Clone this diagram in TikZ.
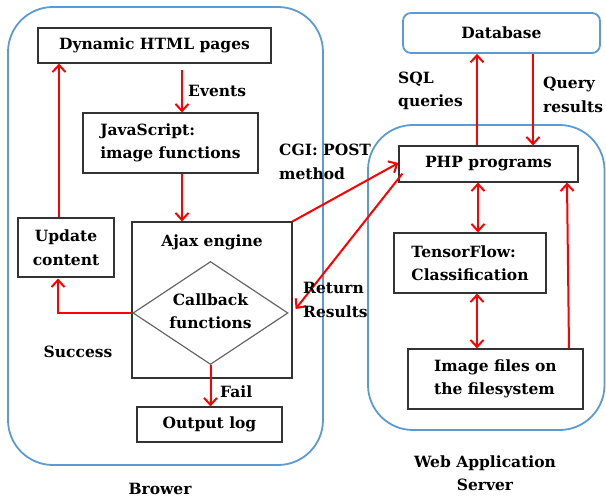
\documentclass[tikz,border=0pt]{standalone}
\usepackage{fontspec}
\setmainfont{DejaVu Serif}
\usetikzlibrary{arrows.meta,shapes.geometric,calc}
\definecolor{frameblue}{RGB}{91,155,213}
\definecolor{arrred}{RGB}{255,0,0}
\begin{document}
\begin{tikzpicture}[x=1pt,y=-1pt,
  every node/.style={font=\bfseries\fontsize{15.5}{23.5}\selectfont, inner sep=0pt},
  box/.style={draw=black!80, line width=1.2pt, rectangle},
  region/.style={draw=frameblue, line width=1.8pt, rounded corners=45pt},
  arr/.style={draw=arrred, line width=2pt, -{Straight Barb[length=7pt,width=13pt]}},
  dbl/.style={draw=arrred, line width=2pt, {Straight Barb[length=7pt,width=13pt]}-{Straight Barb[length=7pt,width=13pt]}},
  lbl/.style={align=left}]
\useasboundingbox (0,0) rectangle (606,500);

% containers
\draw[region] (8,7) rectangle (323,465);
\draw[region] (368,125) rectangle (604.5,430);

% browser side
\node[box, minimum width=233pt, minimum height=35pt] (dyn) at (154.5,45.5) {Dynamic HTML pages};
\node[box, minimum width=175pt, minimum height=60pt, lbl] (js) at (170.5,143) {JavaScript:\\image functions};
\node[box, minimum width=96pt, minimum height=59pt, align=center] (upd) at (66,247.5) {Update\\content};
\node[box, minimum width=160pt, minimum height=156pt] (ajax) at (212,300) {};
\node (ajaxt) at (212,242) {Ajax engine};
\node[draw=black!60, line width=1.2pt, diamond, aspect=1.5, minimum width=155pt, minimum height=103pt] (cb) at (210.5,313) {};
\node[align=center] (cbt) at (210.5,311) {Callback\\functions};
\node[box, minimum width=145pt, minimum height=35pt] (log) at (209.5,424.5) {Output log};

% server side
\node[draw=frameblue, line width=1.8pt, rounded corners=8pt, minimum width=197pt, minimum height=40pt] (db) at (501.5,33) {Database};
\node[box, minimum width=179pt, minimum height=36pt] (php) at (488.5,164) {PHP programs};
\node[box, minimum width=152pt, minimum height=60pt, lbl] (tf) at (470,263) {TensorFlow:\\Classification};
\node[box, minimum width=175pt, minimum height=60pt, lbl] (img) at (495.5,379) {Image files on\\the filesystem};

% connectors
\draw[arr] ([shift={(27.5,6)}]dyn.south) -- ([shift={(11.5,0)}]js.north);
\draw[arr] ([shift={(11.5,0)}]js.south) -- ([shift={(-30,0)}]ajax.north);
\draw[arr] ([shift={(-7,0)}]upd.north) -- ([shift={(-7,0)}]upd.north |- dyn.south);
\draw[arr] (cb.west) -| ([shift={(-8,1)}]upd.south);
\draw[arr] (cb.south) -- (cb.south |- log.north);
\draw[arr] (ajax.north east) -- ([shift={(0,-1)}]php.west);
\draw[arr] ([shift={(4,-9)}]php.south west) -- ([shift={(3,9)}]ajax.east);
\draw[arr] ([shift={(-11.5,0)}]php.north) -- ([shift={(-11.5,0)}]php.north |- db.south);
\draw[arr] ([shift={(31.5,0)}]db.south) -- ([shift={(31.5,0)}]db.south |- php.north);
\draw[dbl] ([shift={(-10.5,0)}]php.south) -- ([shift={(-10.5,0)}]php.south |- tf.north);
\draw[dbl] ([shift={(7,0)}]tf.south) -- ([shift={(7,0)}]tf.south |- img.north);
\draw[arr] ([shift={(73.5,0)}]img.north) -- ([shift={(78.5,0)}]php.south);

% labels
\node[anchor=west] (ev) at (188,91) {Events};
\node[anchor=west, lbl] (cgi) at (279,162) {CGI: POST\\method};
\node[anchor=west, lbl] (ret) at (303,300) {Return\\Results};
\node[anchor=west, lbl] (sql) at (398,91) {SQL\\queries};
\node[anchor=west, lbl] (qr) at (543,95) {Query\\results};
\node (succ) at (78,352) {Success};
\node[anchor=west] (fail) at (220,392) {Fail};
\node (brw) at (160,489) {Brower};
\node[align=center] (was) at (485,473) {Web Application\\Server};
\end{tikzpicture}
\end{document}
